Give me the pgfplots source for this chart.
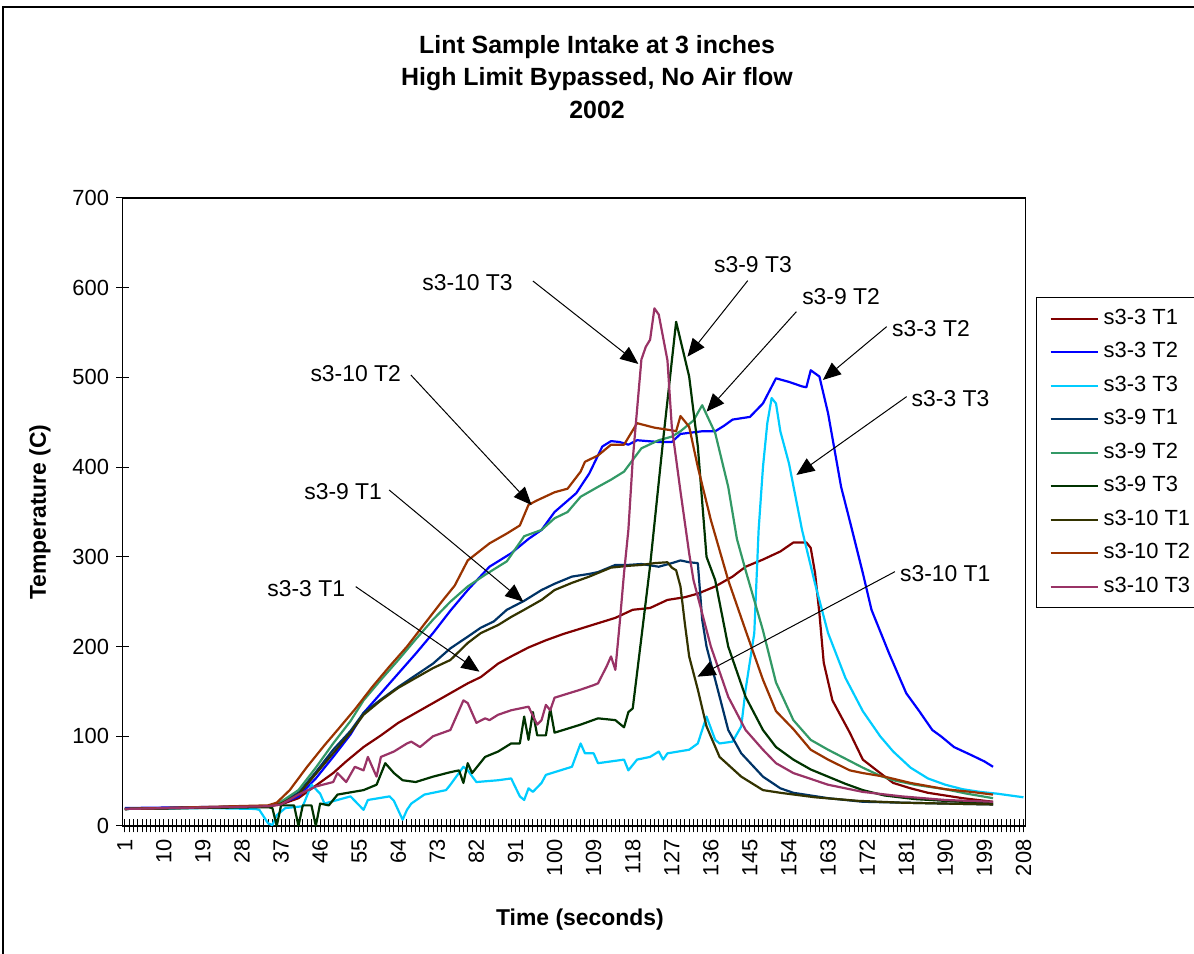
\documentclass[border=0pt]{standalone}
\usepackage{pgfplots}
\pgfplotsset{compat=1.18}
\usepackage{fontspec}
\setmainfont{Liberation Sans}
\usetikzlibrary{arrows.meta}
\definecolor{cA}{RGB}{128,0,0}
\definecolor{cB}{RGB}{0,0,255}
\definecolor{cC}{RGB}{0,204,255}
\definecolor{cD}{RGB}{0,51,102}
\definecolor{cE}{RGB}{51,153,102}
\definecolor{cF}{RGB}{0,51,0}
\definecolor{cG}{RGB}{51,51,0}
\definecolor{cH}{RGB}{153,51,0}
\definecolor{cI}{RGB}{153,51,102}
\begin{document}
\begin{tikzpicture}[x=1bp,y=1bp]
\path[use as bounding box] (0,0) rectangle (597,477);
\draw[line width=0.6bp] (1.5,-5) -- (1.5,473.5) -- (600,473.5);
\node[align=center, font=\fontsize{12.5}{16.25}\bfseries\selectfont] at (298.5,438.5) {Lint Sample Intake at 3 inches\\High Limit Bypassed, No Air flow\\2002};
\begin{axis}[
  at={(61.3bp,64bp)}, anchor=south west,
  scale only axis, width=451.5bp, height=314bp,
  xmin=0.5, xmax=208.5, ymin=0, ymax=700,
  xtick={1,10,...,208}, minor xtick={1,...,208},
  ytick={0,100,...,700},
  tick align=center, tick pos=left,
  major tick length=6.5bp, minor tick length=6.5bp,
  every tick/.style={black, line width=0.5bp},
  axis line style={line width=0.6bp},
  /pgf/number format/assume math mode=true,
  ticklabel style={font=\fontsize{11}{13}\selectfont},
  xticklabel style={rotate=90, anchor=east},
  xlabel={Time (seconds)},
  ylabel={Temperature (C)},
  xlabel style={font=\fontsize{11.5}{13}\bfseries\selectfont, at={(axis description cs:0.5065,-0.1497)}, anchor=center},
  ylabel style={font=\fontsize{11.5}{13}\bfseries\selectfont, at={(axis description cs:-0.0915,0.5)}, anchor=center},
  legend cell align=left,
  legend image code/.code={\draw[#1] (0bp,0bp) -- (23.8bp,0bp);},
  legend style={at={(1.0115,0.842)}, anchor=north west, draw=black, line width=0.5bp,
    font=\fontsize{11}{13}\selectfont, inner xsep=6.5bp, inner ysep=5.25bp,
    nodes={inner sep=0pt, text height=8bp, text depth=2.5bp},
    row sep=6.25bp, column sep=2.2bp},
  every axis plot/.append style={line width=1.1bp, line join=round, no markers},
]
\addplot[cA] coordinates {(1,19)(10,20)(20,21)(30,21)(34,22)(37,24)(41,31)(45,45)(49,59)(52,72)(56,88)(60,101)(64,115)(68,126)(72,137)(76,148)(80,159)(83,166)(87,181)(90,189)(94,199)(98,207)(102,214)(106,220)(110,226)(114,232)(118,241)(122,243)(126,252)(130,255)(133,259)(137,267)(141,278)(144,289)(148,297)(152,306)(155,316)(158,316)(159,310)(160,282)(161,237)(162,182)(164,140)(168,104)(171,74)(175,59)(178,48)(182,42)(186,37)(194,31)(201,27)};
\addlegendentry{s3-3 T1}
\addplot[cB] coordinates {(1,20)(34,22)(37,25)(41,33)(45,53)(49,77)(53,102)(56,126)(60,148)(64,170)(68,192)(72,215)(76,240)(80,263)(85,289)(90,304)(94,320)(97,330)(100,350)(105,371)(108,393)(111,423)(113,429)(115,428)(117,425)(119,430)(124,428)(127,428)(129,437)(134,440)(137,440)(139,446)(141,453)(145,456)(148,471)(151,499)(154,495)(157,490)(158,489)(159,508)(161,501)(163,460)(166,378)(168,340)(171,282)(173,241)(177,193)(181,148)(184,128)(187,107)(189,100)(192,88)(196,79)(199,72)(201,66)};
\addlegendentry{s3-3 T2}
\addplot[cC] coordinates {(1,19)(20,20)(31,19)(32,18)(34,3)(35,1)(36,12)(38,20)(42,22)(44,46)(46,36)(47,25)(50,29)(53,33)(56,18)(57,29)(62,33)(63,28)(65,7)(66,18)(67,25)(70,35)(75,40)(76,46)(79,66)(80,62)(82,49)(87,51)(90,53)(92,33)(93,29)(94,42)(95,38)(97,48)(98,57)(104,66)(106,92)(107,81)(109,81)(110,70)(116,74)(117,62)(119,74)(122,77)(124,83)(125,74)(126,81)(131,85)(133,92)(135,122)(137,96)(138,92)(141,94)(143,111)(144,152)(146,215)(147,330)(148,400)(149,449)(150,477)(151,471)(152,440)(154,404)(157,330)(160,270)(163,215)(167,165)(171,128)(175,100)(178,83)(182,65)(186,53)(190,46)(194,41)(198,38)(202,36)(205,34)(208,32)};
\addlegendentry{s3-3 T3}
\addplot[cD] coordinates {(1,19)(34,22)(37,26)(41,37)(45,60)(49,85)(53,106)(56,126)(60,141)(64,155)(68,168)(72,181)(76,198)(80,211)(83,221)(86,228)(89,241)(93,251)(97,263)(100,270)(104,278)(108,281)(110,283)(114,291)(117,291)(120,292)(124,289)(127,293)(129,296)(131,294)(133,293)(134,230)(135,200)(137,163)(140,107)(143,81)(148,55)(152,42)(155,37)(163,31)(171,27)(180,26)(190,25)(201,24)};
\addlegendentry{s3-9 T1}
\addplot[cE] coordinates {(1,19)(34,22)(37,27)(41,40)(45,65)(49,92)(53,117)(56,140)(60,163)(64,185)(68,208)(72,230)(76,250)(80,267)(84,280)(89,295)(93,323)(97,330)(100,343)(103,350)(106,367)(110,378)(113,386)(116,395)(120,421)(124,430)(127,434)(129,440)(132,452)(134,469)(137,438)(140,378)(142,320)(144,285)(148,218)(151,160)(155,118)(159,96)(163,85)(167,75)(171,65)(175,56)(178,51)(183,46)(190,41)(195,36)(201,31)};
\addlegendentry{s3-9 T2}
\addplot[cF] coordinates {(1,19)(34,21)(35,20)(36,0)(37,23)(40,23)(41,0)(42,23)(44,23)(45,0)(46,25)(48,23)(50,35)(56,40)(59,46)(61,70)(63,59)(65,51)(68,49)(72,55)(76,60)(78,62)(79,48)(80,70)(81,59)(84,77)(87,83)(90,92)(92,92)(93,122)(94,96)(95,127)(96,101)(98,101)(99,131)(100,104)(106,113)(110,120)(114,118)(116,110)(117,127)(118,131)(120,210)(122,290)(125,430)(128,562)(131,501)(133,423)(135,300)(137,274)(140,200)(144,144)(148,107)(151,88)(155,74)(159,63)(163,55)(167,47)(171,40)(176,34)(183,30)(190,28)(201,25)};
\addlegendentry{s3-9 T3}
\addplot[cG] coordinates {(1,19)(34,22)(37,25)(41,35)(45,58)(49,81)(53,104)(56,124)(60,140)(64,154)(68,165)(72,176)(76,185)(80,204)(83,215)(87,224)(90,233)(93,241)(97,252)(100,263)(104,271)(108,278)(110,282)(113,288)(117,290)(120,291)(123,293)(126,294)(127,288)(128,285)(129,267)(130,226)(131,189)(133,152)(135,111)(138,77)(143,55)(148,40)(152,37)(160,32)(170,28)(180,26)(190,25)(201,24)};
\addlegendentry{s3-10 T1}
\addplot[cH] coordinates {(1,19)(34,23)(36,26)(39,40)(43,66)(47,90)(50,107)(54,130)(58,155)(62,178)(66,200)(70,225)(74,250)(77,268)(80,296)(85,315)(89,326)(92,335)(94,358)(96,363)(100,372)(103,376)(106,395)(107,406)(110,413)(113,425)(116,425)(119,449)(123,444)(127,441)(128,440)(129,457)(131,445)(133,400)(136,341)(140,274)(144,218)(148,163)(151,128)(155,108)(159,85)(163,74)(168,62)(171,59)(176,55)(182,48)(190,41)(196,38)(201,35)};
\addlegendentry{s3-10 T2}
\addplot[cI] coordinates {(1,19)(34,22)(37,24)(41,35)(45,44)(49,49)(50,59)(52,49)(54,66)(56,62)(57,77)(59,55)(60,77)(63,83)(66,92)(67,94)(69,88)(72,100)(76,107)(77,118)(79,140)(80,137)(82,115)(84,120)(85,118)(87,124)(90,129)(94,133)(96,113)(97,118)(98,135)(99,129)(100,143)(106,152)(109,157)(110,159)(112,178)(113,189)(114,174)(115,226)(116,282)(117,330)(118,408)(120,520)(121,534)(122,542)(123,577)(124,570)(126,519)(127,445)(129,373)(131,304)(132,274)(136,200)(140,144)(144,107)(148,85)(151,70)(155,59)(163,46)(171,38)(180,33)(190,29)(201,27)};
\addlegendentry{s3-10 T3}
% annotations
\tikzset{ann/.style={font=\fontsize{11.5}{13}\selectfont}, arr/.style={line width=0.5bp, -{Triangle[length=9bp,width=7.5bp]}}}
\node[ann] at (axis cs:79.95,605.3) {s3-10 T3};
\draw[arr] (axis cs:95.0,607.5) -- (axis cs:119.3,515);
\node[ann] at (axis cs:145.7,625.3) {s3-9 T3};
\draw[arr] (axis cs:144.5,607.9) -- (axis cs:130.6,523.1);
\node[ann] at (axis cs:166.0,590) {s3-9 T2};
\draw[arr] (axis cs:155.7,573.3) -- (axis cs:135.0,461.8);
\node[ann] at (axis cs:186.7,554.8) {s3-3 T2};
\draw[arr] (axis cs:176.5,556.6) -- (axis cs:161.8,497.2);
\node[ann] at (axis cs:191.2,476.8) {s3-3 T3};
\draw[arr] (axis cs:181.1,478.6) -- (axis cs:155.7,391.3);
\node[ann] at (axis cs:54.2,504.6) {s3-10 T2};
\draw[arr] (axis cs:66.9,502.7) -- (axis cs:94.7,357.8);
\node[ann] at (axis cs:51.3,372.7) {s3-9 T1};
\draw[arr] (axis cs:61.9,374.5) -- (axis cs:92.8,250);
\node[ann] at (axis cs:42.8,265) {s3-3 T1};
\draw[arr] (axis cs:54.2,266.8) -- (axis cs:82.7,172);
\node[ann] at (axis cs:190.0,281.7) {s3-10 T1};
\draw[arr] (axis cs:178.4,283.5) -- (axis cs:132.9,166.4);
\end{axis}
\end{tikzpicture}
\end{document}
